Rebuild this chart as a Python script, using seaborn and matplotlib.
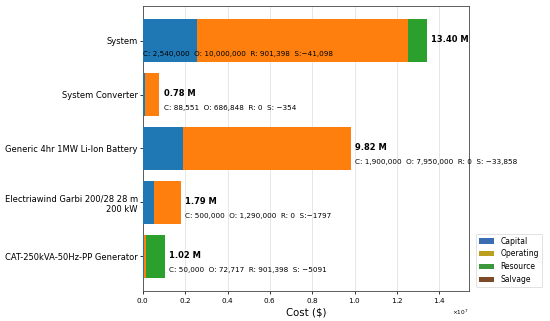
import matplotlib
matplotlib.use("Agg")
import matplotlib.pyplot as plt
import seaborn as sns
import numpy as np
import pandas as pd
from matplotlib.patches import Patch
from matplotlib.ticker import ScalarFormatter

categories = ["System", "System Converter", "Generic 4hr 1MW Li-Ion Battery",
              "Electriawind Garbi 200/28 28 m\n200 kW", "CAT-250kVA-50Hz-PP Generator"]
capital = [2540000, 88551, 1900000, 500000, 50000]
operating = [10000000, 686848, 7950000, 1290000, 72717]
resource = [901398, 0, 0, 0, 901398]
salvage = [-41098, -354, -33858, -1797, -5091]
salvage_text = ["S:\u221241,098", "S: \u2212354", "S: \u221233,858", "S:\u22121797", "S: \u22125091"]
legend_labels = ["Capital", "Operating", "Resource", "Salvage"]

bar_colors = {"Capital": "#1f77b4", "Operating": "#ff7f0e", "Resource": "#2ca02c", "Salvage": "#8c564b"}
legend_colors = ["#3a6db2", "#bba01f", "#3c983c", "#7d4a28"]

df = pd.DataFrame({"cat": categories, "C": capital, "O": operating, "R": resource, "S": salvage})
df["CO"] = df["C"] + df["O"]
df["COR"] = df["CO"] + df["R"]
df["total"] = df["C"] + df["O"] + df["R"] + df["S"]

fig = plt.figure(figsize=(11, 6.42), dpi=50)
ax = fig.add_axes([0.26, 0.0935, 0.5927, 0.8878])

common = dict(y="cat", orient="h", saturation=1, width=0.8, linewidth=0, ax=ax, zorder=3)
sns.barplot(data=df, x="COR", color=bar_colors["Resource"], **common)
sns.barplot(data=df, x="CO", color=bar_colors["Operating"], **common)
sns.barplot(data=df, x="C", color=bar_colors["Capital"], **common)
sns.barplot(data=df, x="S", color=bar_colors["Salvage"], **common)

maxv = df["total"].max()
ax.set_xlim(0, maxv * 1.15)
ax.set_ylim(len(categories) - 1 + 0.64, -0.64)
off = maxv * 0.015
for i, row in df.iterrows():
    ax.text(row["total"] + off, i - 0.02, f"{row['total']/1e6:.2f} M", fontsize=12,
            fontweight="bold", va="center", ha="left", zorder=5)
    detail = (f"C: {row['C']:,}  O: {row['O']:,}  R: {row['R']:,}  " + salvage_text[i])
    dx = 0 if i == 0 else row["total"] + off
    ax.text(dx, i + 0.25, detail, fontsize=10.5, va="center", ha="left", zorder=5)

ax.set_ylabel("")
ax.set_xlabel("Cost ($)", fontsize=14.5)
ax.tick_params(axis="y", labelsize=12, length=4, width=1.1)
ax.tick_params(axis="x", labelsize=10.5, length=4, width=1.1)
fmt = ScalarFormatter(useMathText=True)
ax.xaxis.set_major_formatter(fmt)
ax.xaxis.get_offset_text().set_fontsize(8.5)
ax.grid(axis="x", color="#e3e3e3", linewidth=1.2, zorder=0)
ax.set_axisbelow(True)
for s in ax.spines.values():
    s.set_linewidth(1.2)
    s.set_color("#444444")

handles = [Patch(facecolor=c, label=l) for c, l in zip(legend_colors, legend_labels)]
ax.legend(handles=handles, loc="lower left", bbox_to_anchor=(1.01, 0.0), fontsize=11,
          frameon=True, borderaxespad=0.5)

fig.savefig("out.png", dpi=50)
